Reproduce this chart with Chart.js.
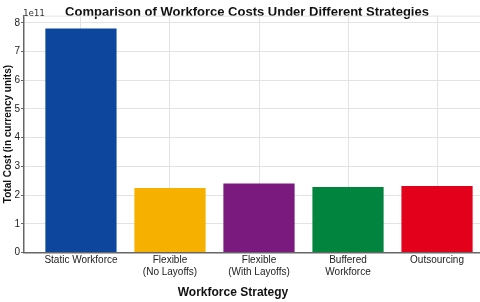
<!DOCTYPE html>
<html>
<head>
<meta charset="utf-8">
<script src="https://cdn.jsdelivr.net/npm/chart.js@4/dist/chart.umd.min.js"></script>
<style>
  html, body { margin: 0; padding: 0; background: #fff; overflow: hidden; }
  #wrap { width: 480px; height: 302px; overflow: hidden; }
</style>
</head>
<body>
<div id="wrap"><canvas id="costChart" width="494" height="302"></canvas></div>
<script>
// data
const strategies = [
  ['Static Workforce'],
  ['Flexible', '(No Layoffs)'],
  ['Flexible', '(With Layoffs)'],
  ['Buffered', 'Workforce'],
  ['Outsourcing']
];
const totalCost = [7.8e11, 2.25e11, 2.4e11, 2.28e11, 2.32e11];
const barColors = ['#0c479d', '#f6b100', '#7a1a7e', '#00843e', '#e3001b'];
const yTicks = [0, 1, 2, 3, 4, 5, 6, 7, 8];

const FONT = "'Liberation Sans', Arial, sans-serif";

// extra text + top frame line (matplotlib-like)
const extras = {
  id: 'extras',
  beforeDatasetsDraw(chart) {
    const { ctx, chartArea } = chart;
    ctx.save();
    ctx.strokeStyle = '#e3e3e3';
    ctx.lineWidth = 1;
    ctx.beginPath();
    ctx.moveTo(chartArea.left, chartArea.top + 0.5);
    ctx.lineTo(chartArea.right, chartArea.top + 0.5);
    ctx.stroke();
    ctx.restore();
  },
  afterDraw(chart) {
    const { ctx } = chart;
    ctx.save();
    ctx.fillStyle = '#333';
    ctx.font = "9px 'DejaVu Sans Mono', monospace";
    ctx.textAlign = 'left';
    ctx.textBaseline = 'middle';
    ctx.fillText('1e11', 23, 14);
    ctx.fillStyle = '#111';
    ctx.font = 'bold 12px ' + FONT;
    ctx.textAlign = 'center';
    ctx.fillText('Workforce Strategy', 233, 293);
    ctx.restore();
  }
};

new Chart(document.getElementById('costChart').getContext('2d'), {
  type: 'bar',
  data: {
    datasets: [{
      data: totalCost.map((v, i) => ({ x: i, y: v })),
      backgroundColor: barColors,
      borderWidth: 0,
      categoryPercentage: 1,
      barPercentage: 0.8
    }]
  },
  options: {
    responsive: false,
    animation: false,
    layout: { padding: { left: 0, right: 0, top: 0, bottom: 0 } },
    plugins: {
      legend: { display: false },
      tooltip: { enabled: false },
      title: {
        display: true,
        text: 'Comparison of Workforce Costs Under Different Strategies',
        color: '#111',
        font: { family: FONT, size: 13, weight: 'bold' },
        padding: { top: 5, bottom: -5 }
      }
    },
    scales: {
      x: {
        type: 'linear',
        offset: false,
        min: -0.64,
        max: 4.64,
        afterBuildTicks: (s) => { s.ticks = strategies.map((_, i) => ({ value: i })); },
        afterFit: (s) => { s.height = 49.5; },
        ticks: {
          color: '#222',
          font: { family: FONT, size: 10 },
          padding: 2,
          maxRotation: 0,
          autoSkip: false,
          callback: (v) => strategies[v]
        },
        grid: { color: '#e3e3e3', drawTicks: false, offset: false },
        border: { color: '#666', width: 1.5 }
      },
      y: {
        min: 0,
        max: 8.25e11,
        afterBuildTicks: (s) => { s.ticks = yTicks.map(t => ({ value: t * 1e11 })); },
        afterFit: (s) => { s.width = 24; },
        ticks: {
          color: '#222',
          font: { family: FONT, size: 10 },
          padding: 1,
          callback: (v) => Math.round(v / 1e11)
        },
        grid: { color: '#e3e3e3', tickColor: '#666', tickLength: 3 },
        border: { color: '#666', width: 1.5 },
        title: {
          display: true,
          text: 'Total Cost (in currency units)',
          color: '#111',
          font: { family: FONT, size: 10, weight: 'bold' },
          padding: { top: 2, bottom: 0 }
        }
      }
    }
  },
  plugins: [extras]
});
</script>
</body>
</html>
